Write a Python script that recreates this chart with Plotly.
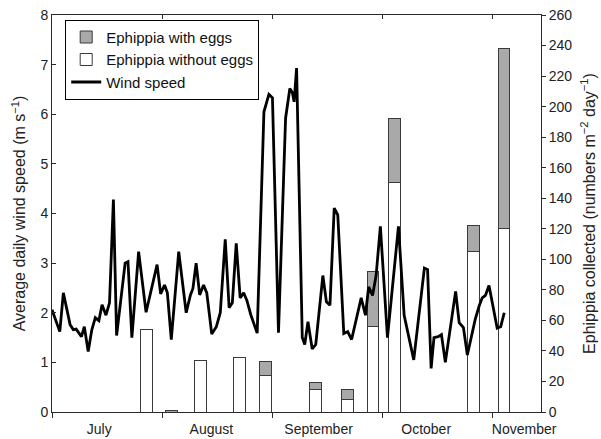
import plotly.graph_objects as go

# Wind speed (m s-1), x = days since 1 July
wind_day = [0.0, 2.2, 3.2, 5.1, 6.0, 6.8, 7.6, 8.3, 9.1, 10.2, 11.2, 12.2, 13.2, 14.1, 15.2, 16.2,
            17.3, 18.2, 20.6, 21.4, 22.5, 24.4, 26.5, 27.8, 29.6, 30.6, 31.7, 32.5, 33.6, 35.7,
            37.8, 39.0, 39.7, 40.6, 41.6, 42.7, 43.6, 45.0, 46.3, 47.4, 48.8, 49.9, 50.8, 51.9,
            53.0, 54.0, 54.9, 56.0, 56.8, 57.8, 59.7, 61.1, 62.1, 63.8, 65.8, 67.0, 67.7, 68.2,
            68.9, 70.5, 71.2, 72.1, 73.3, 74.3, 76.3, 77.3, 78.3, 79.5, 80.5, 82.2, 83.3, 84.4,
            87.1, 88.3, 89.2, 90.3, 91.3, 92.5, 94.5, 97.6, 99.2, 101.9, 104.9, 105.8, 106.8,
            107.6, 108.8, 109.7, 110.8, 113.7, 114.7, 115.9, 117.0, 119.2, 120.3, 121.2, 122.1,
            123.1, 125.4, 126.4, 127.4]
wind_speed = [2.06, 1.62, 2.40, 1.76, 1.66, 1.67, 1.59, 1.52, 1.72, 1.22, 1.65, 1.90, 1.84, 2.16, 1.95, 2.20,
              4.28, 1.54, 3.00, 3.03, 1.50, 3.23, 2.01, 2.40, 2.97, 2.38, 2.56, 2.40, 1.46, 3.23,
              2.00, 2.36, 2.49, 3.00, 2.36, 2.56, 2.40, 1.57, 1.72, 2.00, 3.48, 2.10, 2.20, 3.40,
              2.30, 2.40, 2.25, 1.96, 1.80, 1.59, 6.05, 6.40, 6.33, 1.60, 5.92, 6.52, 6.44, 6.25,
              6.93, 1.50, 1.36, 1.82, 1.27, 1.36, 2.75, 2.22, 2.15, 4.11, 3.97, 1.58, 1.62, 1.46,
              2.30, 1.95, 2.52, 2.35, 2.75, 3.74, 1.50, 3.74, 1.95, 1.05, 2.90, 2.87, 0.88,
              1.50, 1.52, 1.56, 1.00, 2.43, 1.80, 1.70, 1.15, 1.86, 2.13, 2.30, 2.35,
              2.55, 1.69, 1.72, 2.00]

# Ephippia collected (numbers m-2 day-1)
bar_day = [26.6, 33.6, 41.8, 52.8, 60.1, 74.2, 83.3, 90.4, 96.4, 118.8, 127.3]
without_eggs = [54, 0, 33.5, 36, 24, 15, 8, 56, 150, 105, 120]
with_eggs = [0, 1.2, 0, 0, 9, 4, 7, 36, 42.5, 17, 118]

month_starts = [0, 31, 62, 93, 124]
month_label_pos = [13.3, 44.9, 75.1, 105.4, 133.0]
month_names = ["July", "August", "September", "October", "November"]

FONT = "Liberation Sans, Arial, sans-serif"
AX = "#2a2a2a"
XR = [0, 137.75]

fig = go.Figure()
fig.add_trace(go.Bar(x=bar_day, y=without_eggs, name="Ephippia without eggs", width=3.3,
                     marker=dict(color="white", line=dict(color="#3a3a3a", width=1)),
                     legendrank=2))
fig.add_trace(go.Bar(x=bar_day, y=with_eggs, name="Ephippia with eggs", width=3.3,
                     marker=dict(color="#a9a9a9", line=dict(color="#3a3a3a", width=1)),
                     legendrank=1))
fig.add_trace(go.Scatter(x=wind_day, y=wind_speed, mode="lines", name="Wind speed",
                         line=dict(color="black", width=2.8), yaxis="y2", legendrank=3))
# helper trace so top axis is drawn
fig.add_trace(go.Scatter(x=[None], y=[None], xaxis="x2", yaxis="y2", showlegend=False,
                         hoverinfo="skip"))

fig.update_layout(
    width=601, height=439,
    margin=dict(l=52, r=60, t=15, b=27),
    paper_bgcolor="white", plot_bgcolor="white",
    barmode="stack",
    font=dict(family=FONT, size=14, color="#222"),
    showlegend=True,
    legend=dict(x=0.027, y=0.988, xanchor="left", yanchor="top", traceorder="normal",
                bordercolor="black", borderwidth=1, bgcolor="white",
                font=dict(size=15, color="#111"), tracegroupgap=0, itemwidth=30),
    xaxis=dict(range=XR, tickmode="array", tickvals=month_label_pos, ticktext=month_names,
               ticks="", showline=True, linecolor=AX, linewidth=1, showgrid=False,
               zeroline=False, tickfont=dict(size=14), ticklabelstandoff=4, automargin=False,
               minor=dict(tickmode="array", tickvals=month_starts, ticks="outside",
                          ticklen=5, tickcolor=AX, tickwidth=1, showgrid=False)),
    xaxis2=dict(range=XR, overlaying="x", side="top", anchor="y2", tickmode="array",
                tickvals=month_starts, ticks="inside", ticklen=4, tickcolor=AX,
                showticklabels=False, showline=True, linecolor=AX, linewidth=1,
                showgrid=False, zeroline=False, automargin=False),
    yaxis=dict(range=[0, 260], dtick=20, side="right", ticks="outside", ticklen=4,
               tickcolor=AX, showline=True, linecolor=AX, linewidth=1, showgrid=False,
               zeroline=False, tickfont=dict(size=14), automargin=False,
               title=dict(text="Ephippia collected (numbers m<sup>\u22122</sup> day<sup>\u22121</sup>)",
                          font=dict(size=16), standoff=12)),
    yaxis2=dict(range=[0, 8], dtick=1, side="left", overlaying="y", anchor="x",
                ticks="inside", ticklen=4, tickcolor=AX, showline=True, linecolor=AX,
                linewidth=1, showgrid=False, zeroline=False, tickfont=dict(size=14),
                automargin=False,
                title=dict(text="Average daily wind speed (m s<sup>\u22121</sup>)",
                           font=dict(size=16), standoff=10)),
)

fig.write_html("out.html")
